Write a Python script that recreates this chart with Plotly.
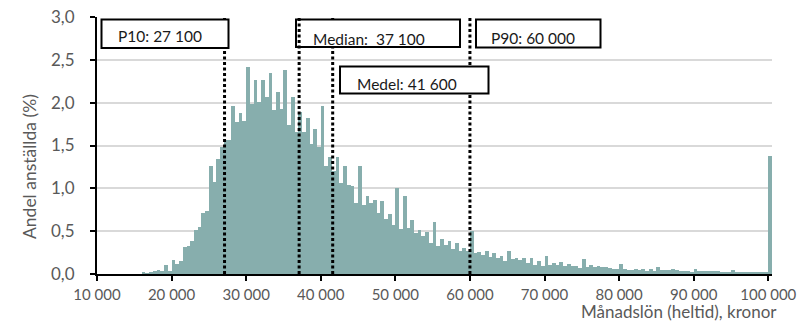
import plotly.graph_objects as go

# Salary bins (lower edge, kronor) – 500 kr wide, last bin collects 100 000+
bin_start = list(range(16000, 100001, 500))

# Share of employees (%) per bin
share_pct = [
    0.012, 0.006, 0.015, 0.03, 0.05, 0.03, 0.105, 0.04, 0.163, 0.117,      # 16 000 – 20 500
    0.152, 0.315, 0.327, 0.385, 0.513, 0.55, 0.712, 0.735, 1.26, 1.07,     # 21 000 – 25 500
    1.34, 1.48, 1.56, 1.56, 1.96, 1.77, 1.88, 1.785, 2.415, 1.99,          # 26 000 – 30 500
    2.26, 2.007, 2.27, 2.065, 2.35, 1.91, 2.12, 1.925, 2.38, 1.74,         # 31 000 – 35 500
    2.065, 1.66, 1.89, 1.66, 1.82, 1.52, 1.69, 1.485, 1.96, 1.26,          # 36 000 – 40 500
    1.36, 1.205, 1.365, 1.065, 1.264, 1.04, 1.027, 0.832, 1.264, 0.805,    # 41 000 – 45 500
    0.91, 0.832, 0.867, 0.712, 0.852, 0.642, 0.70, 0.572, 1.003, 0.525,    # 46 000 – 50 500
    0.91, 0.535, 0.63, 0.475, 0.513, 0.447, 0.494, 0.365, 0.607, 0.327,    # 51 000 – 55 500
    0.408, 0.338, 0.385, 0.292, 0.362, 0.268, 0.307, 0.265, 0.502, 0.249,  # 56 000 – 60 500
    0.26, 0.222, 0.268, 0.198, 0.245, 0.19, 0.206, 0.155, 0.268, 0.175,    # 61 000 – 65 500
    0.185, 0.163, 0.187, 0.132, 0.187, 0.109, 0.155, 0.097, 0.21, 0.101,   # 66 000 – 70 500
    0.128, 0.101, 0.14, 0.097, 0.12, 0.093, 0.093, 0.074, 0.175, 0.082,    # 71 000 – 75 500
    0.109, 0.082, 0.093, 0.082, 0.082, 0.074, 0.062, 0.062, 0.117, 0.058,  # 76 000 – 80 500
    0.047, 0.047, 0.054, 0.047, 0.056, 0.037, 0.054, 0.035, 0.082, 0.043,  # 81 000 – 85 500
    0.047, 0.047, 0.054, 0.043, 0.039, 0.035, 0.035, 0.027, 0.058, 0.031,  # 86 000 – 90 500
    0.031, 0.031, 0.031, 0.031, 0.031, 0.023, 0.023, 0.023, 0.047, 0.023,  # 91 000 – 95 500
    0.023, 0.023, 0.023, 0.023, 0.012, 0.012, 0.012, 0.012,                # 96 000 – 99 500
    1.377,                                                                 # 100 000+
]

# Distribution statistics (kronor)
stat_names = ["P10", "Median", "Medel", "P90"]
stat_values = [27100, 37100, 41600, 60000]
stat_labels = ["P10: 27 100", "Median:  37 100", "Medel: 41 600", "P90: 60 000"]

# Axis ticks
x_tickvals = [10000, 20000, 30000, 40000, 50000, 60000, 70000, 80000, 90000, 100000]
x_ticktext = ["10 000", "20 000", "30 000", "40 000", "50 000",
              "60 000", "70 000", "80 000", "90 000", "100 000"]
y_tickvals = [0, 0.5, 1.0, 1.5, 2.0, 2.5, 3.0]
y_ticktext = ["0,0", "0,5", "1,0", "1,5", "2,0", "2,5", "3,0"]

W, H = 802, 322
PL, PR, PT, PB = 97, 772, 17, 274   # plot area in pixels
FONT = "Lato, 'Open Sans', sans-serif"
GREY = "#595959"
BAR = "#87AEAD"


def fx(p):
    return (p - PL) / (PR - PL)


def fy(p):
    return (PB - p) / (PB - PT)


fig = go.Figure()
fig.add_trace(go.Bar(
    x=bin_start, y=share_pct, width=500, offset=0,
    marker=dict(color=BAR, line=dict(width=0)),
    hoverinfo="x+y", showlegend=False,
))

# statistic label boxes: (left, top, right, bottom, text-left, text-middle) in pixels
box_geom = {
    "P10": (101.5, 19.5, 228.5, 48, 116, 36.5),
    "Median": (296, 19.5, 460, 47, 311, 38.5),
    "P90": (476, 19.5, 600.5, 47.5, 489, 37.5),
    "Medel": (340, 66.5, 488.5, 93.5, 355, 84.5),
}

shapes = []


def vline(v):
    return dict(type="line", xref="x", yref="y", x0=v, x1=v, y0=0, y1=3,
                line=dict(color="black", width=3, dash="3px,2.5px"), layer="above")


for name, val in zip(stat_names, stat_values):
    if name != "Median":
        shapes.append(vline(val))
for name in stat_names:
    l, t, r, b, _, _ = box_geom[name]
    shapes.append(dict(type="rect", xref="paper", yref="paper",
                       x0=fx(l), x1=fx(r), y0=fy(b), y1=fy(t),
                       line=dict(color="black", width=2), fillcolor="white", layer="above"))
shapes.append(vline(stat_values[stat_names.index("Median")]))

annotations = []
for name, label in zip(stat_names, stat_labels):
    _, _, _, _, tx, ty = box_geom[name]
    annotations.append(dict(xref="paper", yref="paper", x=fx(tx), y=fy(ty),
                            xanchor="left", yanchor="middle", text=label, showarrow=False,
                            font=dict(family=FONT, size=15.5, color="#1a1a1a")))

annotations.append(dict(xref="paper", yref="paper", x=fx(30), y=fy(167),
                        xanchor="center", yanchor="middle", textangle=-90,
                        text="Andel anställda (%)", showarrow=False,
                        font=dict(family=FONT, size=17.5, color=GREY)))
annotations.append(dict(xref="paper", yref="paper", x=fx(779), y=fy(311.5),
                        xanchor="right", yanchor="middle",
                        text="Månadslön (heltid), kronor", showarrow=False,
                        font=dict(family=FONT, size=17, color=GREY)))

fig.update_layout(
    width=W, height=H,
    margin=dict(l=PL, r=W - PR, t=PT, b=H - PB, autoexpand=False),
    paper_bgcolor="white", plot_bgcolor="white",
    bargap=0,
    shapes=shapes, annotations=annotations,
    font=dict(family=FONT, color=GREY),
    xaxis=dict(range=[10000, 100500], tickvals=x_tickvals, ticktext=x_ticktext,
               showgrid=False, zeroline=False, showline=True, linecolor="black", linewidth=2,
               ticks="outside", ticklen=5, tickwidth=2, tickcolor="black",
               ticklabelstandoff=1,
               tickfont=dict(family=FONT, size=15, color=GREY)),
    yaxis=dict(range=[0, 3], tickvals=y_tickvals, ticktext=y_ticktext,
               showgrid=True, gridcolor="#D9D9D9", gridwidth=1.5,
               zeroline=False, showline=True, linecolor="black", linewidth=2,
               ticks="outside", ticklen=5, tickwidth=2, tickcolor="black",
               ticklabelstandoff=12,
               tickfont=dict(family=FONT, size=17, color=GREY)),
)

fig.write_html("out.html")
